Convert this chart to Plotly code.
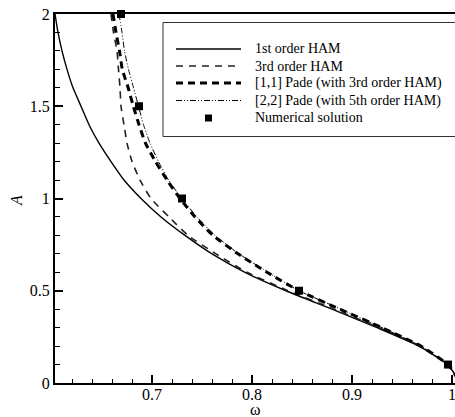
import plotly.graph_objects as go

# ---------------- data ----------------
A_levels = [2.0, 1.9, 1.8, 1.7, 1.6, 1.5, 1.4, 1.3, 1.2, 1.1, 1.0,
            0.9, 0.8, 0.7, 0.6, 0.5, 0.4, 0.3, 0.2, 0.1, 0.05, 0.0]

omega_ham1 = [0.603, 0.606, 0.610, 0.615, 0.621, 0.629, 0.637, 0.647, 0.659, 0.672, 0.689,
              0.709, 0.733, 0.760, 0.793, 0.834, 0.880, 0.925, 0.967, 0.9955, 1.0025, 1.008]
omega_ham3 = [0.659, 0.6615, 0.665, 0.6665, 0.668, 0.669, 0.672, 0.675, 0.680, 0.688, 0.699,
              0.717, 0.736, 0.764, 0.795, 0.836, 0.882, 0.927, 0.968, 0.996, 1.0025, 1.008]
omega_pade11 = [0.661, 0.664, 0.6675, 0.6703, 0.6762, 0.6813, 0.687, 0.6935, 0.7035, 0.715, 0.728,
                0.743, 0.761, 0.786, 0.815, 0.847, 0.888, 0.930, 0.969, 0.996, 1.0025, 1.008]
omega_pade22 = [0.667, 0.670, 0.6725, 0.6765, 0.6815, 0.6865, 0.6915, 0.698, 0.7065, 0.7165, 0.7297,
                0.745, 0.763, 0.787, 0.816, 0.847, 0.889, 0.930, 0.969, 0.996, 1.0025, 1.008]

omega_num = [0.669, 0.687, 0.730, 0.847, 0.996]
A_num = [2.0, 1.5, 1.0, 0.5, 0.1]

series_names = ["1st order HAM", "3rd order HAM", "[1,1] Pade (with 3rd order HAM)",
                "[2,2] Pade (with 5th order HAM)", "Numerical solution"]

x_ticks = [0.7, 0.8, 0.9, 1.0]
x_ticklabels = ["0.7", "0.8", "0.9", "1"]
y_ticks = [0, 0.5, 1, 1.5, 2]
y_ticklabels = ["0", "0.5", "1", "1.5", "2"]
x_title = "ω"
y_title = "<i>A</i>"

# ---------------- styles ----------------
FONT = "Liberation Serif, Times New Roman, serif"
styles = [
    dict(color="black", width=1.4, dash="solid"),
    dict(color="#222222", width=1.6, dash="7px,6px"),
    dict(color="black", width=3.0, dash="7px,5px"),
    dict(color="black", width=1.0, dash="6px,2px,1px,2px,1px,2px"),
]

fig = go.Figure()
curves = [omega_ham1, omega_ham3, omega_pade11, omega_pade22]
for name, om, st in zip(series_names[:4], curves, styles):
    fig.add_trace(go.Scatter(x=om, y=A_levels, mode="lines", name=name,
                             line=dict(color=st["color"], width=st["width"], dash=st["dash"],
                                       shape="spline", smoothing=0.5),
                             showlegend=False))
fig.add_trace(go.Scatter(x=omega_num, y=A_num, mode="markers", name=series_names[4],
                         marker=dict(symbol="square", size=8, color="black"),
                         cliponaxis=False, showlegend=False))

# ---------------- manual legend ----------------
# plot area in page pixels: x 55..455, y 14..383
L, T, W, H = 55, 14, 400, 369


def px(xp):
    return (xp - L) / W


def py(yp):
    return (T + H - yp) / H


fig.add_shape(type="rect", xref="paper", yref="paper",
              x0=px(163), x1=px(470), y0=py(136.5), y1=py(22.5),
              line=dict(color="#333333", width=1), fillcolor="white", layer="above")
rows = [49, 66, 83, 100.5, 118]
for i, name in enumerate(series_names):
    yr = py(rows[i])
    if i < 4:
        st = styles[i]
        fig.add_shape(type="line", xref="paper", yref="paper",
                      x0=px(176), x1=px(241), y0=yr, y1=yr, layer="above",
                      line=dict(color=st["color"], width=st["width"], dash=st["dash"]))
    else:
        fig.add_shape(type="rect", xref="paper", yref="paper",
                      x0=px(208.5 - 3.5), x1=px(208.5 + 3.5),
                      y0=yr - 3.5 / H, y1=yr + 3.5 / H, layer="above",
                      line=dict(width=0), fillcolor="black")
    fig.add_annotation(x=px(253), y=yr, xref="paper", yref="paper", text=name,
                       showarrow=False, xanchor="left", yanchor="middle",
                       font=dict(family=FONT, size=14, color="black"))

# axis titles
fig.add_annotation(x=px(256), y=py(417), xref="paper", yref="paper", text=x_title,
                   showarrow=False, xanchor="center", yanchor="bottom", borderpad=0,
                   height=14, valign="middle",
                   font=dict(family=FONT, size=16, color="black"))
fig.add_annotation(x=px(16), y=py(201), xref="paper", yref="paper", text=y_title,
                   showarrow=False, xanchor="center", yanchor="middle", textangle=-90,
                   font=dict(family=FONT, size=16, color="black"))

fig.update_layout(
    width=455, height=417,
    margin=dict(l=L, r=0, t=T, b=417 - T - H, pad=0),
    paper_bgcolor="white", plot_bgcolor="white",
    font=dict(family=FONT, size=16, color="black"),
    showlegend=False,
)
fig.update_xaxes(range=[0.603, 1.003], showgrid=False, zeroline=False, automargin=False,
                 showline=True, linecolor="black", linewidth=2, mirror=True,
                 ticks="inside", ticklen=8, tickwidth=1.5, tickcolor="black",
                 tickvals=x_ticks, ticktext=x_ticklabels, ticklabeloverflow="allow",
                 ticklabelstandoff=-4,
                 tickfont=dict(family=FONT, size=16),
                 minor=dict(dtick=0.02, tick0=0.6, ticks="inside", ticklen=4.5,
                            tickwidth=1.2, tickcolor="black", showgrid=False))
fig.update_yaxes(range=[0, 2], showgrid=False, zeroline=False, automargin=False,
                 showline=True, linecolor="black", linewidth=2, mirror=False,
                 ticks="inside", ticklen=8, tickwidth=1.5, tickcolor="black",
                 tickvals=y_ticks, ticktext=y_ticklabels, ticklabeloverflow="allow",
                 tickfont=dict(family=FONT, size=16),
                 minor=dict(dtick=0.1, tick0=0, ticks="inside", ticklen=4.5,
                            tickwidth=1.2, tickcolor="black", showgrid=False))

fig.write_html("out.html", config={"displayModeBar": False},
               post_script="document.body.style.margin='0px';")
